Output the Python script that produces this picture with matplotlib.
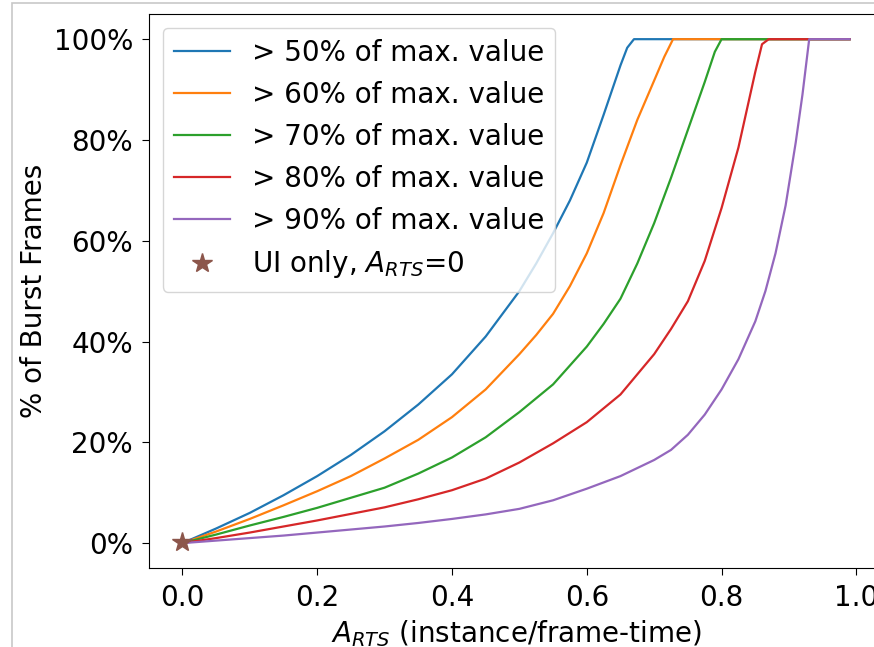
import matplotlib
matplotlib.use("Agg")
import matplotlib.pyplot as plt
from matplotlib.patches import Rectangle
from matplotlib.ticker import PercentFormatter

# share of burst frames (%) vs. A_RTS, one curve per threshold
x_50 = [0, 0.05, 0.10, 0.15, 0.20, 0.25, 0.30, 0.35, 0.40, 0.45, 0.50, 0.525, 0.55, 0.575,
        0.60, 0.625, 0.65, 0.66, 0.67, 0.99]
y_50 = [0, 2.9, 6.0, 9.5, 13.3, 17.5, 22.2, 27.5, 33.5, 41.0, 50.0, 55.5, 61.5, 68.0,
        75.5, 85.0, 94.8, 98.3, 100, 100]

x_60 = [0, 0.05, 0.10, 0.15, 0.20, 0.25, 0.30, 0.35, 0.40, 0.45, 0.50, 0.525, 0.55, 0.575,
        0.60, 0.625, 0.65, 0.675, 0.70, 0.715, 0.728, 0.99]
y_60 = [0, 2.3, 4.8, 7.5, 10.3, 13.3, 16.8, 20.5, 25.0, 30.5, 37.5, 41.3, 45.5, 51.0,
        57.5, 65.5, 75.0, 84.0, 91.8, 96.5, 100, 100]

x_70 = [0, 0.05, 0.10, 0.15, 0.20, 0.25, 0.30, 0.35, 0.40, 0.45, 0.50, 0.55, 0.60, 0.625,
        0.65, 0.675, 0.70, 0.725, 0.75, 0.775, 0.79, 0.80, 0.99]
y_70 = [0, 1.7, 3.5, 5.2, 7.0, 9.0, 11.0, 13.8, 17.0, 21.0, 26.0, 31.5, 39.0, 43.5,
        48.5, 55.5, 63.5, 72.5, 82.0, 91.5, 97.5, 100, 100]

x_80 = [0, 0.05, 0.10, 0.15, 0.20, 0.25, 0.30, 0.35, 0.40, 0.45, 0.50, 0.55, 0.60, 0.65,
        0.675, 0.70, 0.725, 0.75, 0.775, 0.80, 0.825, 0.85, 0.86, 0.87, 0.99]
y_80 = [0, 1.0, 2.1, 3.3, 4.5, 5.8, 7.1, 8.7, 10.5, 12.8, 16.0, 19.8, 24.0, 29.5,
        33.5, 37.5, 42.5, 48.0, 56.0, 66.5, 78.5, 93.5, 99.0, 100, 100]

x_90 = [0, 0.05, 0.10, 0.15, 0.20, 0.25, 0.30, 0.35, 0.40, 0.45, 0.50, 0.55, 0.60, 0.65,
        0.70, 0.725, 0.75, 0.775, 0.80, 0.825, 0.85, 0.865, 0.88, 0.895, 0.91, 0.92, 0.93, 0.99]
y_90 = [0, 0.5, 1.0, 1.5, 2.1, 2.7, 3.3, 4.0, 4.8, 5.7, 6.8, 8.5, 10.8, 13.3,
        16.5, 18.5, 21.5, 25.5, 30.5, 36.5, 44.0, 50.0, 57.5, 67.0, 79.5, 89.0, 100, 100]

labels = ['> 50% of max. value', '> 60% of max. value', '> 70% of max. value',
          '> 80% of max. value', '> 90% of max. value']

# UI-only point
ui_x = [0]
ui_y = [0.3]

plt.rcParams['font.size'] = 20
plt.rcParams['xtick.major.size'] = 5
plt.rcParams['ytick.major.size'] = 5
plt.rcParams['xtick.major.pad'] = 6.5
plt.rcParams['ytick.major.pad'] = 6.5

fig = plt.figure(figsize=(8.74, 6.47), dpi=100)
ax = fig.add_axes([0.1705, 0.1216, 0.8398, 0.8568])

for xs, ys, lab in zip([x_50, x_60, x_70, x_80, x_90],
                       [y_50, y_60, y_70, y_80, y_90], labels):
    ax.plot(xs, ys, linewidth=1.6, label=lab)
ax.plot(ui_x, ui_y, '*', markersize=15, label=r'UI only, $A_{RTS}$=0')

ax.yaxis.set_major_formatter(PercentFormatter(decimals=0))
ax.set_xlabel(r'$A_{RTS}$ (instance/frame-time)')
ax.set_ylabel('% of Burst Frames')
ax.legend(loc='upper left')

# light frame around the output cell
fig.patches.append(Rectangle((0.0132, -0.1), 1.2, 1.0946, transform=fig.transFigure,
                             fill=False, edgecolor='#c8c8c8', linewidth=1.2))

fig.savefig('out.png', dpi=100)
